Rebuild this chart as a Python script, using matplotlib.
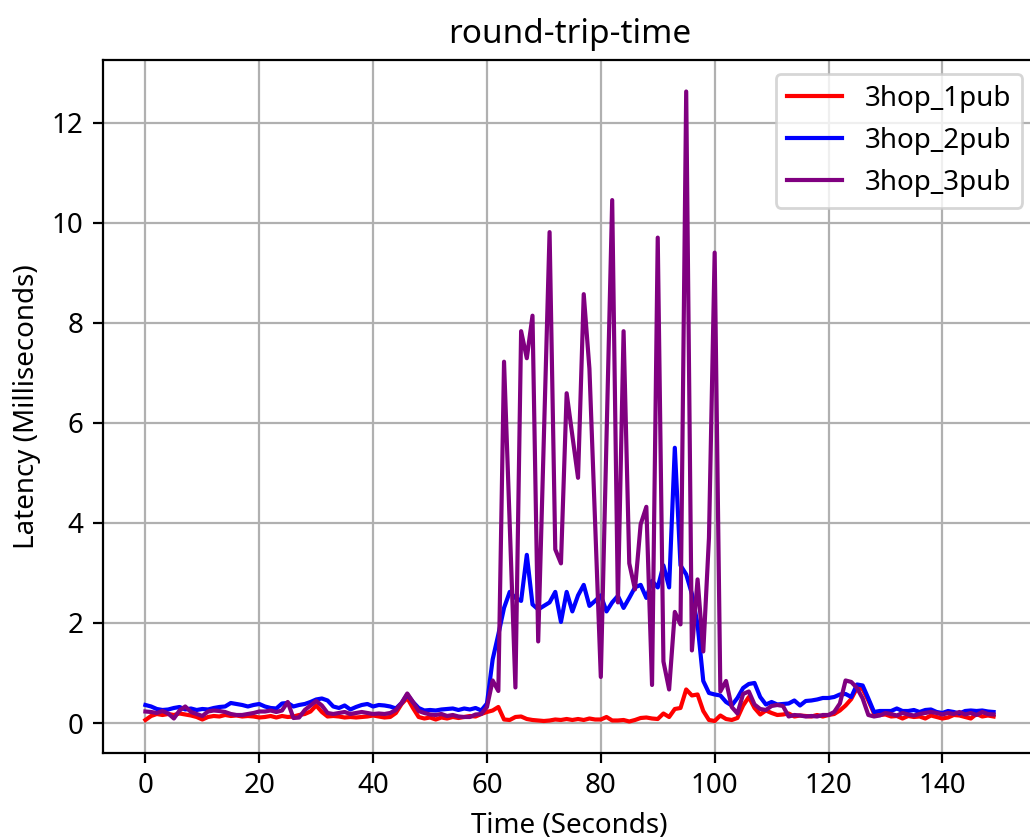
import matplotlib
matplotlib.use("Agg")
import matplotlib.pyplot as plt
import numpy as np

plt.rcParams['font.family'] = ['Noto Sans', 'DejaVu Sans']

time_s = list(range(150))

rtt_1pub = [
    0.06, 0.14, 0.18, 0.16, 0.18, 0.16, 0.19, 0.17, 0.15, 0.12,
    0.07, 0.12, 0.14, 0.13, 0.16, 0.14, 0.15, 0.13, 0.14, 0.13,
    0.11, 0.12, 0.14, 0.11, 0.14, 0.12, 0.13, 0.16, 0.18, 0.23,
    0.35, 0.22, 0.13, 0.14, 0.13, 0.11, 0.12, 0.11, 0.12, 0.13,
    0.15, 0.13, 0.11, 0.12, 0.20, 0.38, 0.50, 0.30, 0.12, 0.09,
    0.11, 0.07, 0.11, 0.09, 0.12, 0.10, 0.12, 0.14, 0.13, 0.18,
    0.22, 0.25, 0.32, 0.07, 0.06, 0.12, 0.13, 0.08, 0.06, 0.05,
    0.04, 0.05, 0.07, 0.06, 0.08, 0.06, 0.08, 0.06, 0.09, 0.07,
    0.07, 0.12, 0.05, 0.05, 0.06, 0.03, 0.06, 0.10, 0.11, 0.09,
    0.08, 0.19, 0.12, 0.28, 0.30, 0.67, 0.55, 0.57, 0.24, 0.06,
    0.04, 0.15, 0.08, 0.06, 0.10, 0.35, 0.52, 0.30, 0.17, 0.25,
    0.20, 0.16, 0.17, 0.19, 0.13, 0.15, 0.14, 0.13, 0.16, 0.13,
    0.16, 0.18, 0.25, 0.35, 0.48, 0.70, 0.68, 0.45, 0.19, 0.16,
    0.17, 0.13, 0.14, 0.09, 0.14, 0.12, 0.13, 0.09, 0.15, 0.12,
    0.09, 0.11, 0.16, 0.15, 0.12, 0.09, 0.18, 0.13, 0.15, 0.13,
]

rtt_2pub = [
    0.36, 0.33, 0.28, 0.26, 0.27, 0.30, 0.32, 0.27, 0.29, 0.26,
    0.28, 0.27, 0.30, 0.32, 0.33, 0.40, 0.38, 0.36, 0.33, 0.36,
    0.38, 0.33, 0.30, 0.29, 0.39, 0.40, 0.33, 0.36, 0.38, 0.42,
    0.47, 0.49, 0.45, 0.33, 0.30, 0.35, 0.27, 0.32, 0.36, 0.38,
    0.33, 0.36, 0.35, 0.33, 0.29, 0.40, 0.57, 0.42, 0.30, 0.25,
    0.26, 0.25, 0.27, 0.28, 0.29, 0.26, 0.29, 0.27, 0.30, 0.25,
    0.39, 1.27, 1.77, 2.30, 2.62, 2.50, 2.44, 3.36, 2.37, 2.27,
    2.34, 2.41, 2.62, 2.02, 2.62, 2.23, 2.55, 2.76, 2.34, 2.44,
    2.55, 2.23, 2.41, 2.54, 2.30, 2.50, 2.71, 2.76, 2.50, 2.84,
    2.71, 3.15, 2.71, 5.50, 3.15, 2.97, 2.58, 1.97, 0.84, 0.60,
    0.57, 0.55, 0.42, 0.35, 0.50, 0.70, 0.78, 0.80, 0.52, 0.37,
    0.42, 0.37, 0.38, 0.39, 0.45, 0.35, 0.44, 0.45, 0.47, 0.50,
    0.50, 0.52, 0.57, 0.58, 0.52, 0.77, 0.75, 0.49, 0.22, 0.24,
    0.24, 0.24, 0.29, 0.24, 0.24, 0.26, 0.22, 0.26, 0.27, 0.22,
    0.20, 0.24, 0.22, 0.19, 0.24, 0.25, 0.24, 0.25, 0.23, 0.22,
]

rtt_3pub = [
    0.23, 0.22, 0.20, 0.24, 0.19, 0.09, 0.25, 0.33, 0.22, 0.18,
    0.14, 0.23, 0.25, 0.24, 0.22, 0.18, 0.16, 0.16, 0.18, 0.20,
    0.23, 0.23, 0.25, 0.22, 0.25, 0.42, 0.10, 0.11, 0.26, 0.35,
    0.44, 0.35, 0.20, 0.18, 0.20, 0.22, 0.18, 0.20, 0.22, 0.20,
    0.18, 0.19, 0.18, 0.20, 0.26, 0.40, 0.59, 0.42, 0.24, 0.20,
    0.17, 0.16, 0.18, 0.14, 0.16, 0.13, 0.12, 0.12, 0.17, 0.18,
    0.32, 0.85, 0.64, 7.22, 3.95, 0.71, 7.83, 7.29, 8.14, 1.63,
    5.70, 9.81, 3.47, 3.19, 6.59, 5.75, 4.90, 8.57, 7.08, 4.00,
    0.92, 5.70, 10.45, 2.41, 7.83, 3.19, 2.67, 3.97, 4.32, 0.76,
    9.70, 1.23, 0.67, 2.22, 1.97, 12.62, 1.45, 2.87, 1.43, 3.70,
    9.40, 0.63, 0.84, 0.32, 0.19, 0.58, 0.63, 0.37, 0.28, 0.26,
    0.34, 0.36, 0.34, 0.13, 0.16, 0.15, 0.13, 0.14, 0.13, 0.16,
    0.16, 0.22, 0.39, 0.85, 0.82, 0.70, 0.49, 0.16, 0.13, 0.15,
    0.20, 0.18, 0.15, 0.20, 0.17, 0.15, 0.18, 0.20, 0.22, 0.20,
    0.17, 0.20, 0.18, 0.22, 0.17, 0.20, 0.16, 0.22, 0.18, 0.17,
]

series_labels = ['3hop_1pub', '3hop_2pub', '3hop_3pub']
series_colors = ['red', 'blue', 'purple']

W, H = 1030, 839
dpi = 200
fig = plt.figure(figsize=(W / dpi, H / dpi), dpi=dpi)
ax = fig.add_axes([103 / W, 86 / H, 933 / W, 693 / H])

for data, lab, col in zip([rtt_1pub, rtt_2pub, rtt_3pub], series_labels, series_colors):
    ax.plot(time_s, data, color=col, label=lab)

ax.set_title('round-trip-time')
ax.set_xlabel('Time (Seconds)')
ax.set_ylabel('Latency (Milliseconds)')
ax.grid(True)
ax.legend(loc='upper right')

fig.savefig('out.png', dpi=dpi)
